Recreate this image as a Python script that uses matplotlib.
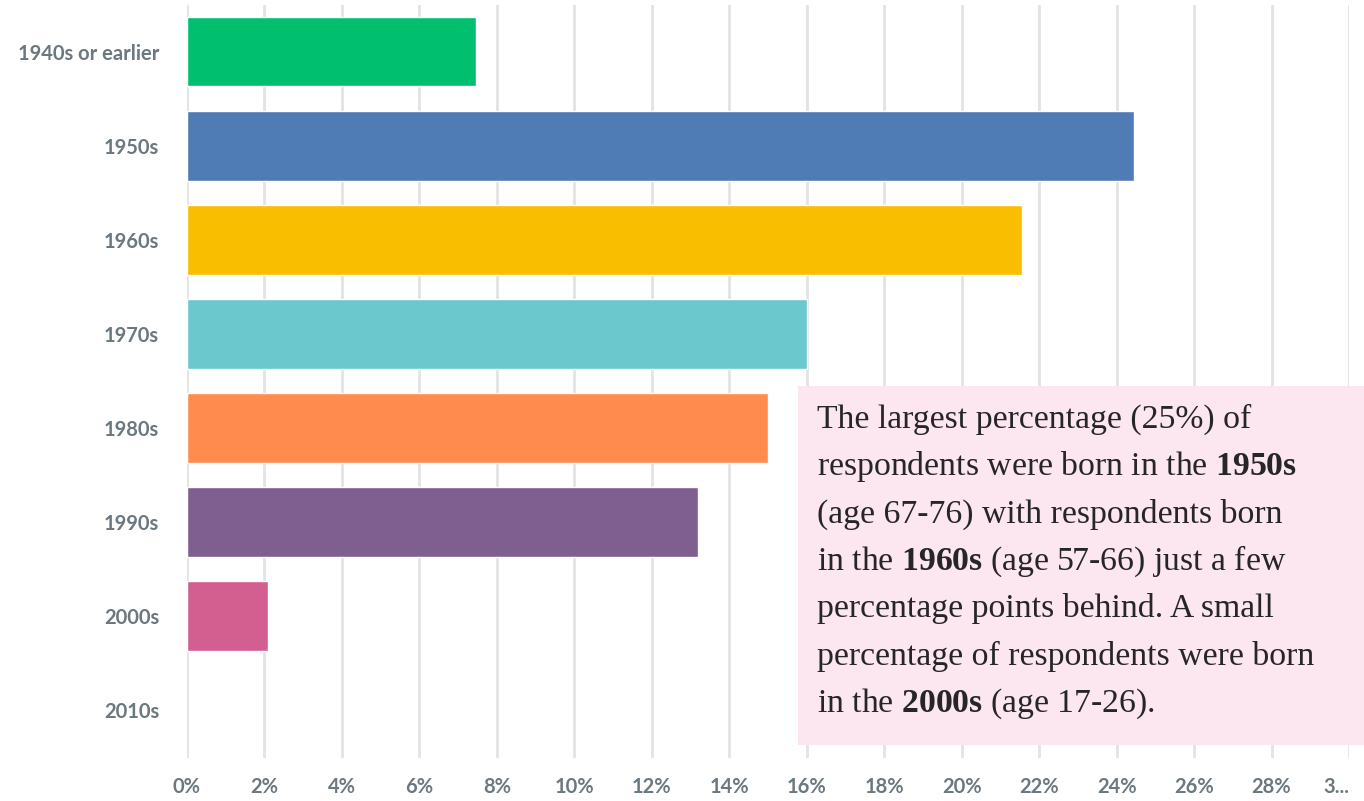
import matplotlib.pyplot as plt
from matplotlib.patches import Rectangle

# data
categories = ["1940s or earlier", "1950s", "1960s", "1970s", "1980s", "1990s", "2000s", "2010s"]
percent = [7.45, 24.45, 21.55, 16.0, 15.0, 13.2, 2.1, 0.0]
colors = ["#00bf6f", "#507cb6", "#f9be00", "#6bc8cd", "#ff8b4f", "#7f5f90", "#d25f90", "#a8a8a8"]
xticks = list(range(0, 32, 2))
xtick_labels = [f"{t}%" for t in xticks[:-1]] + ["3..."]

note_lines = [
    r"The largest percentage (25%) of",
    r"respondents were born in the $\mathbf{1950s}$",
    r"(age 67-76) with respondents born",
    r"in the $\mathbf{1960s}$ (age 57-66) just a few",
    r"percentage points behind. A small",
    r"percentage of respondents were born",
    r"in the $\mathbf{2000s}$ (age 17-26).",
]

plt.rcParams['mathtext.fontset'] = 'custom'
plt.rcParams['mathtext.rm'] = 'Liberation Serif'
plt.rcParams['mathtext.bf'] = 'Liberation Serif:bold'

W, H = 1364, 801
fig = plt.figure(figsize=(W / 100, H / 100), dpi=100)
ax = fig.add_axes([187 / W, 1 - 757.5 / H, (1349 - 187) / W, (757.5 - 4.5) / H])

y = range(len(categories))
ax.barh(y, percent, height=0.74, color=colors, edgecolor="white",
        linewidth=[1 if p > 0 else 0 for p in percent], zorder=3)
ax.set_ylim(len(categories) - 0.5, -0.5)
ax.set_xlim(0, 30)

ax.set_xticks(xticks)
ax.set_xticklabels(xtick_labels)
ax.set_yticks(list(y))
ax.set_yticklabels(categories)
lab_color = "#6b787f"
ax.tick_params(axis="x", length=0, pad=14, labelsize=14.5, labelcolor=lab_color)
ax.tick_params(axis="y", length=0, pad=20, labelsize=14.5, labelcolor=lab_color)
for lab in ax.get_xticklabels() + ax.get_yticklabels():
    lab.set_fontfamily("Lato")
    lab.set_fontweight("bold")
# last label is truncated and sits left of its gridline
ax.get_xticklabels()[-1].set_horizontalalignment("right")
ax.get_xticklabels()[-1].set_x(30.3)

ax.grid(axis="x", color="#e3e3e3", linewidth=2, zorder=0)
ax.grid(axis="y", visible=False)
for s in ax.spines.values():
    s.set_visible(False)

# annotation box
fig.patches.append(Rectangle((798 / W, 1 - 745 / H), (W - 798) / W, (745 - 386) / H,
                             transform=fig.transFigure, facecolor="#fce6f0",
                             edgecolor="none", zorder=5))
for i, line in enumerate(note_lines):
    fig.text(817 / W, 1 - (428 + i * 47.3) / H, line, fontfamily="Liberation Serif",
             fontsize=24.3, color="#262626", va="baseline", ha="left", zorder=6)

fig.savefig("out.png", dpi=100)
